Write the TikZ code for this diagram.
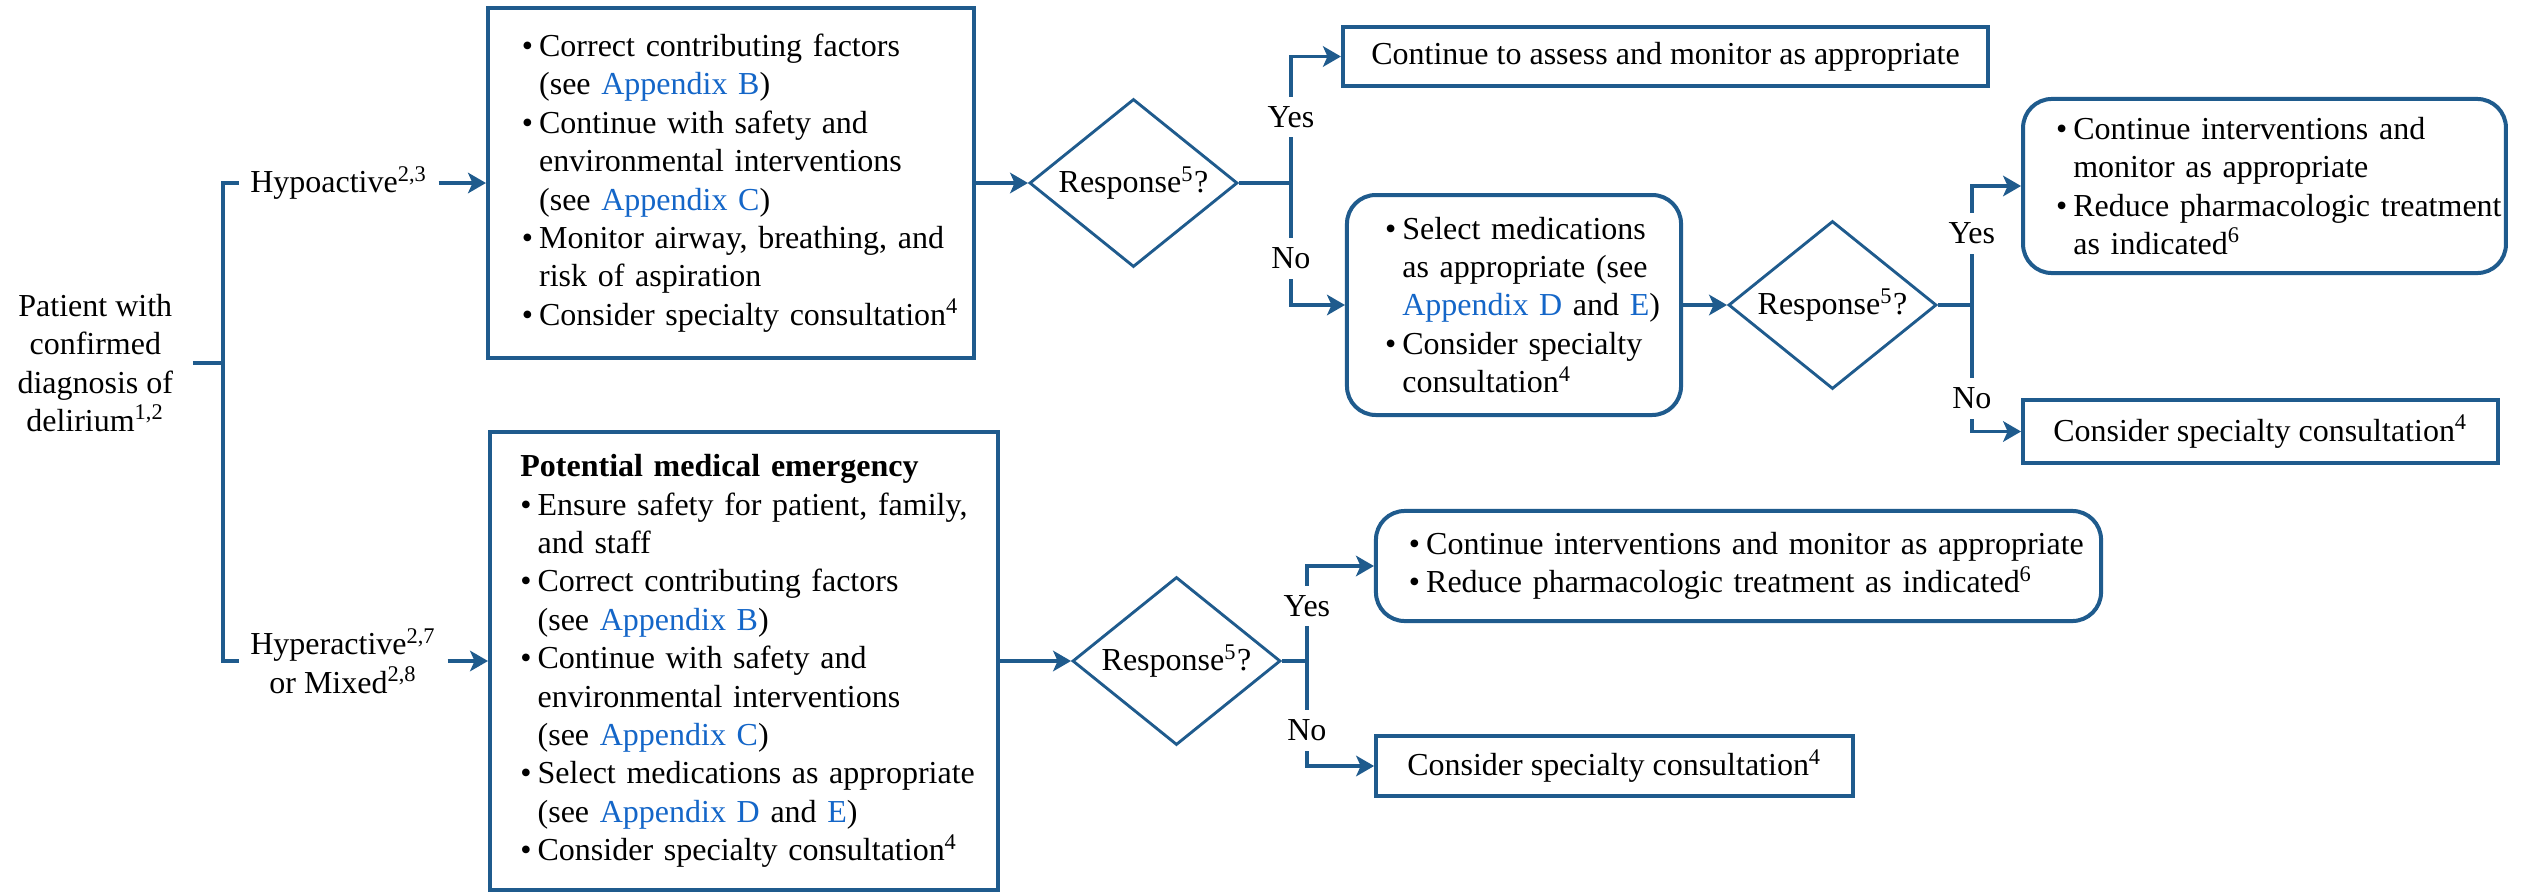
\documentclass[tikz,border=0pt]{standalone}
\usepackage{fontspec}
\setmainfont{Liberation Serif}
\usetikzlibrary{positioning,shapes.geometric,arrows.meta}
\definecolor{flowblue}{RGB}{31,91,141}
\definecolor{linkblue}{RGB}{20,102,200}
\newlength\bulw
\setlength\bulw{5.4pt}
\newcommand{\bitem}[1]{\hangindent=\bulw\hangafter=1\makebox[\bulw][l]{\textbullet}#1\par}
\newcommand{\appx}[1]{\textcolor{linkblue}{#1}}
\newcommand{\resp}{\makebox[0pt]{Response\textsuperscript{5}?}}
\tikzset{
  every node/.style={font=\fontsize{10}{12}\selectfont},
  line/.style={draw=flowblue, line width=1.2pt},
  arr/.style={line, -{Stealth[length=5.6pt,width=6.4pt,inset=1.4pt]}},
  box/.style={draw=flowblue, line width=1.25pt, inner xsep=0pt, align=left,
    execute at begin node={\leftskip=#1}},
  rbox/.style={box=#1, rounded corners=9pt},
  onebox/.style={draw=flowblue, line width=1.25pt},
  dec/.style={diamond, draw=flowblue, line width=0.9pt, inner sep=0pt,
    minimum width=65pt, minimum height=52.5pt},
  yn/.style={fill=white, inner xsep=1pt, inner ysep=3pt}
}
\begin{document}
\begin{tikzpicture}[x=0.3125pt, y=-0.3125pt]
\useasboundingbox (0,0) rectangle (2521,893);
\coordinate (brtop) at (223,183);
\coordinate (brmid) at (223,363);
\coordinate (brbot) at (223,661);
\node[align=center, inner xsep=6pt, left=9.4pt of brmid] (patient) {Patient with\\confirmed\\diagnosis of\\delirium\textsuperscript{1,2}};
\node[right=5pt of brtop] (hypo) {Hypoactive\textsuperscript{2,3}};
\node[align=center, right=5pt of brbot] (hyper) {Hyperactive\textsuperscript{2,7}\\or Mixed\textsuperscript{2,8}};
\node[box=10.6pt, text width=151.9pt, minimum height=109.4pt] (hypobox) at (731,183) {%
\bitem{Correct contributing factors\newline (see \appx{Appendix B})}%
\bitem{Continue with safety and\newline environmental interventions\newline (see \appx{Appendix C})}%
\bitem{Monitor airway, breathing, and\newline risk of aspiration}%
\bitem{Consider specialty consultation\textsuperscript{4}}};
\node[box=9.5pt, text width=158.75pt, minimum height=143.1pt] (emerbox) at (744,661) {%
\textbf{Potential medical emergency}\par
\bitem{Ensure safety for patient, family,\newline and staff}%
\bitem{Correct contributing factors\newline (see \appx{Appendix B})}%
\bitem{Continue with safety and\newline environmental interventions\newline (see \appx{Appendix C})}%
\bitem{Select medications as appropriate\newline (see \appx{Appendix D} and \appx{E})}%
\bitem{Consider specialty consultation\textsuperscript{4}}};
\node[dec, right=16.25pt of hypobox] (resp1) {\resp};
\node[dec, right=22.2pt of emerbox] (resp3) {\resp};
\node[onebox, minimum width=201.6pt, minimum height=18.4pt] (assessbox) at (1665.5,56.5) {Continue to assess and monitor as appropriate};
\node[rbox=11.9pt, text width=104.4pt, minimum height=68.75pt] (medbox) at (1514,305) {%
\bitem{Select medications\newline as appropriate (see\newline \appx{Appendix D} and \appx{E})}%
\bitem{Consider specialty\newline consultation\textsuperscript{4}}};
\node[dec, right=13.75pt of medbox] (resp2) {\resp};
\node[rbox=10.3pt, text width=150.9pt, minimum height=54.4pt] (contbox) at (2264.5,186) {%
\bitem{Continue interventions and\newline monitor as appropriate}%
\bitem{Reduce pharmacologic treatment\newline as indicated\textsuperscript{6}}};
\node[onebox, minimum width=148.4pt, minimum height=19.7pt] (consult1) at (2260.5,431.5) {Consider specialty consultation\textsuperscript{4}};
\node[rbox=10.3pt, text width=226.6pt, minimum height=34.4pt] (contbox2) at (1738.5,566) {%
\bitem{Continue interventions and monitor as appropriate}%
\bitem{Reduce pharmacologic treatment as indicated\textsuperscript{6}}};
\node[onebox, minimum width=149pt, minimum height=18.75pt] (consult2) at (1614.5,766) {Consider specialty consultation\textsuperscript{4}};
\coordinate[right=16.25pt of resp1.east] (br1);
\coordinate[right=10.6pt of resp2.east] (br2);
\coordinate[right=7.8pt of resp3.east] (br3);
\draw[line] (patient.east) -- (brmid);
\draw[line] (hypo.west) -- (brtop) -- (brbot) -- (hyper.west);
\draw[arr] (hypo.east) -- (hypobox.west);
\draw[arr] (hyper.east) -- (emerbox.west);
\draw[arr] (hypobox.east) -- (resp1.west);
\draw[arr] (emerbox.east) -- (resp3.west);
\draw[arr] (medbox.east) -- (resp2.west);
\draw[line] (resp1.east) -- (br1);
\draw[line] (resp2.east) -- (br2);
\draw[line] (resp3.east) -- (br3);
\draw[arr] (br1) |- node[yn, pos=0.26] {Yes} (assessbox.west);
\draw[arr] (br1) |- node[yn, pos=0.31] {No} (medbox.west);
\draw[arr] (br2) |- node[yn, pos=0.3] {Yes} (contbox.west);
\draw[arr] (br2) |- node[yn, pos=0.37] {No} (consult1.west);
\draw[arr] (br3) |- node[yn, pos=0.29] {Yes} (contbox2.west);
\draw[arr] (br3) |- node[yn, pos=0.33] {No} (consult2.west);
\end{tikzpicture}
\end{document}
